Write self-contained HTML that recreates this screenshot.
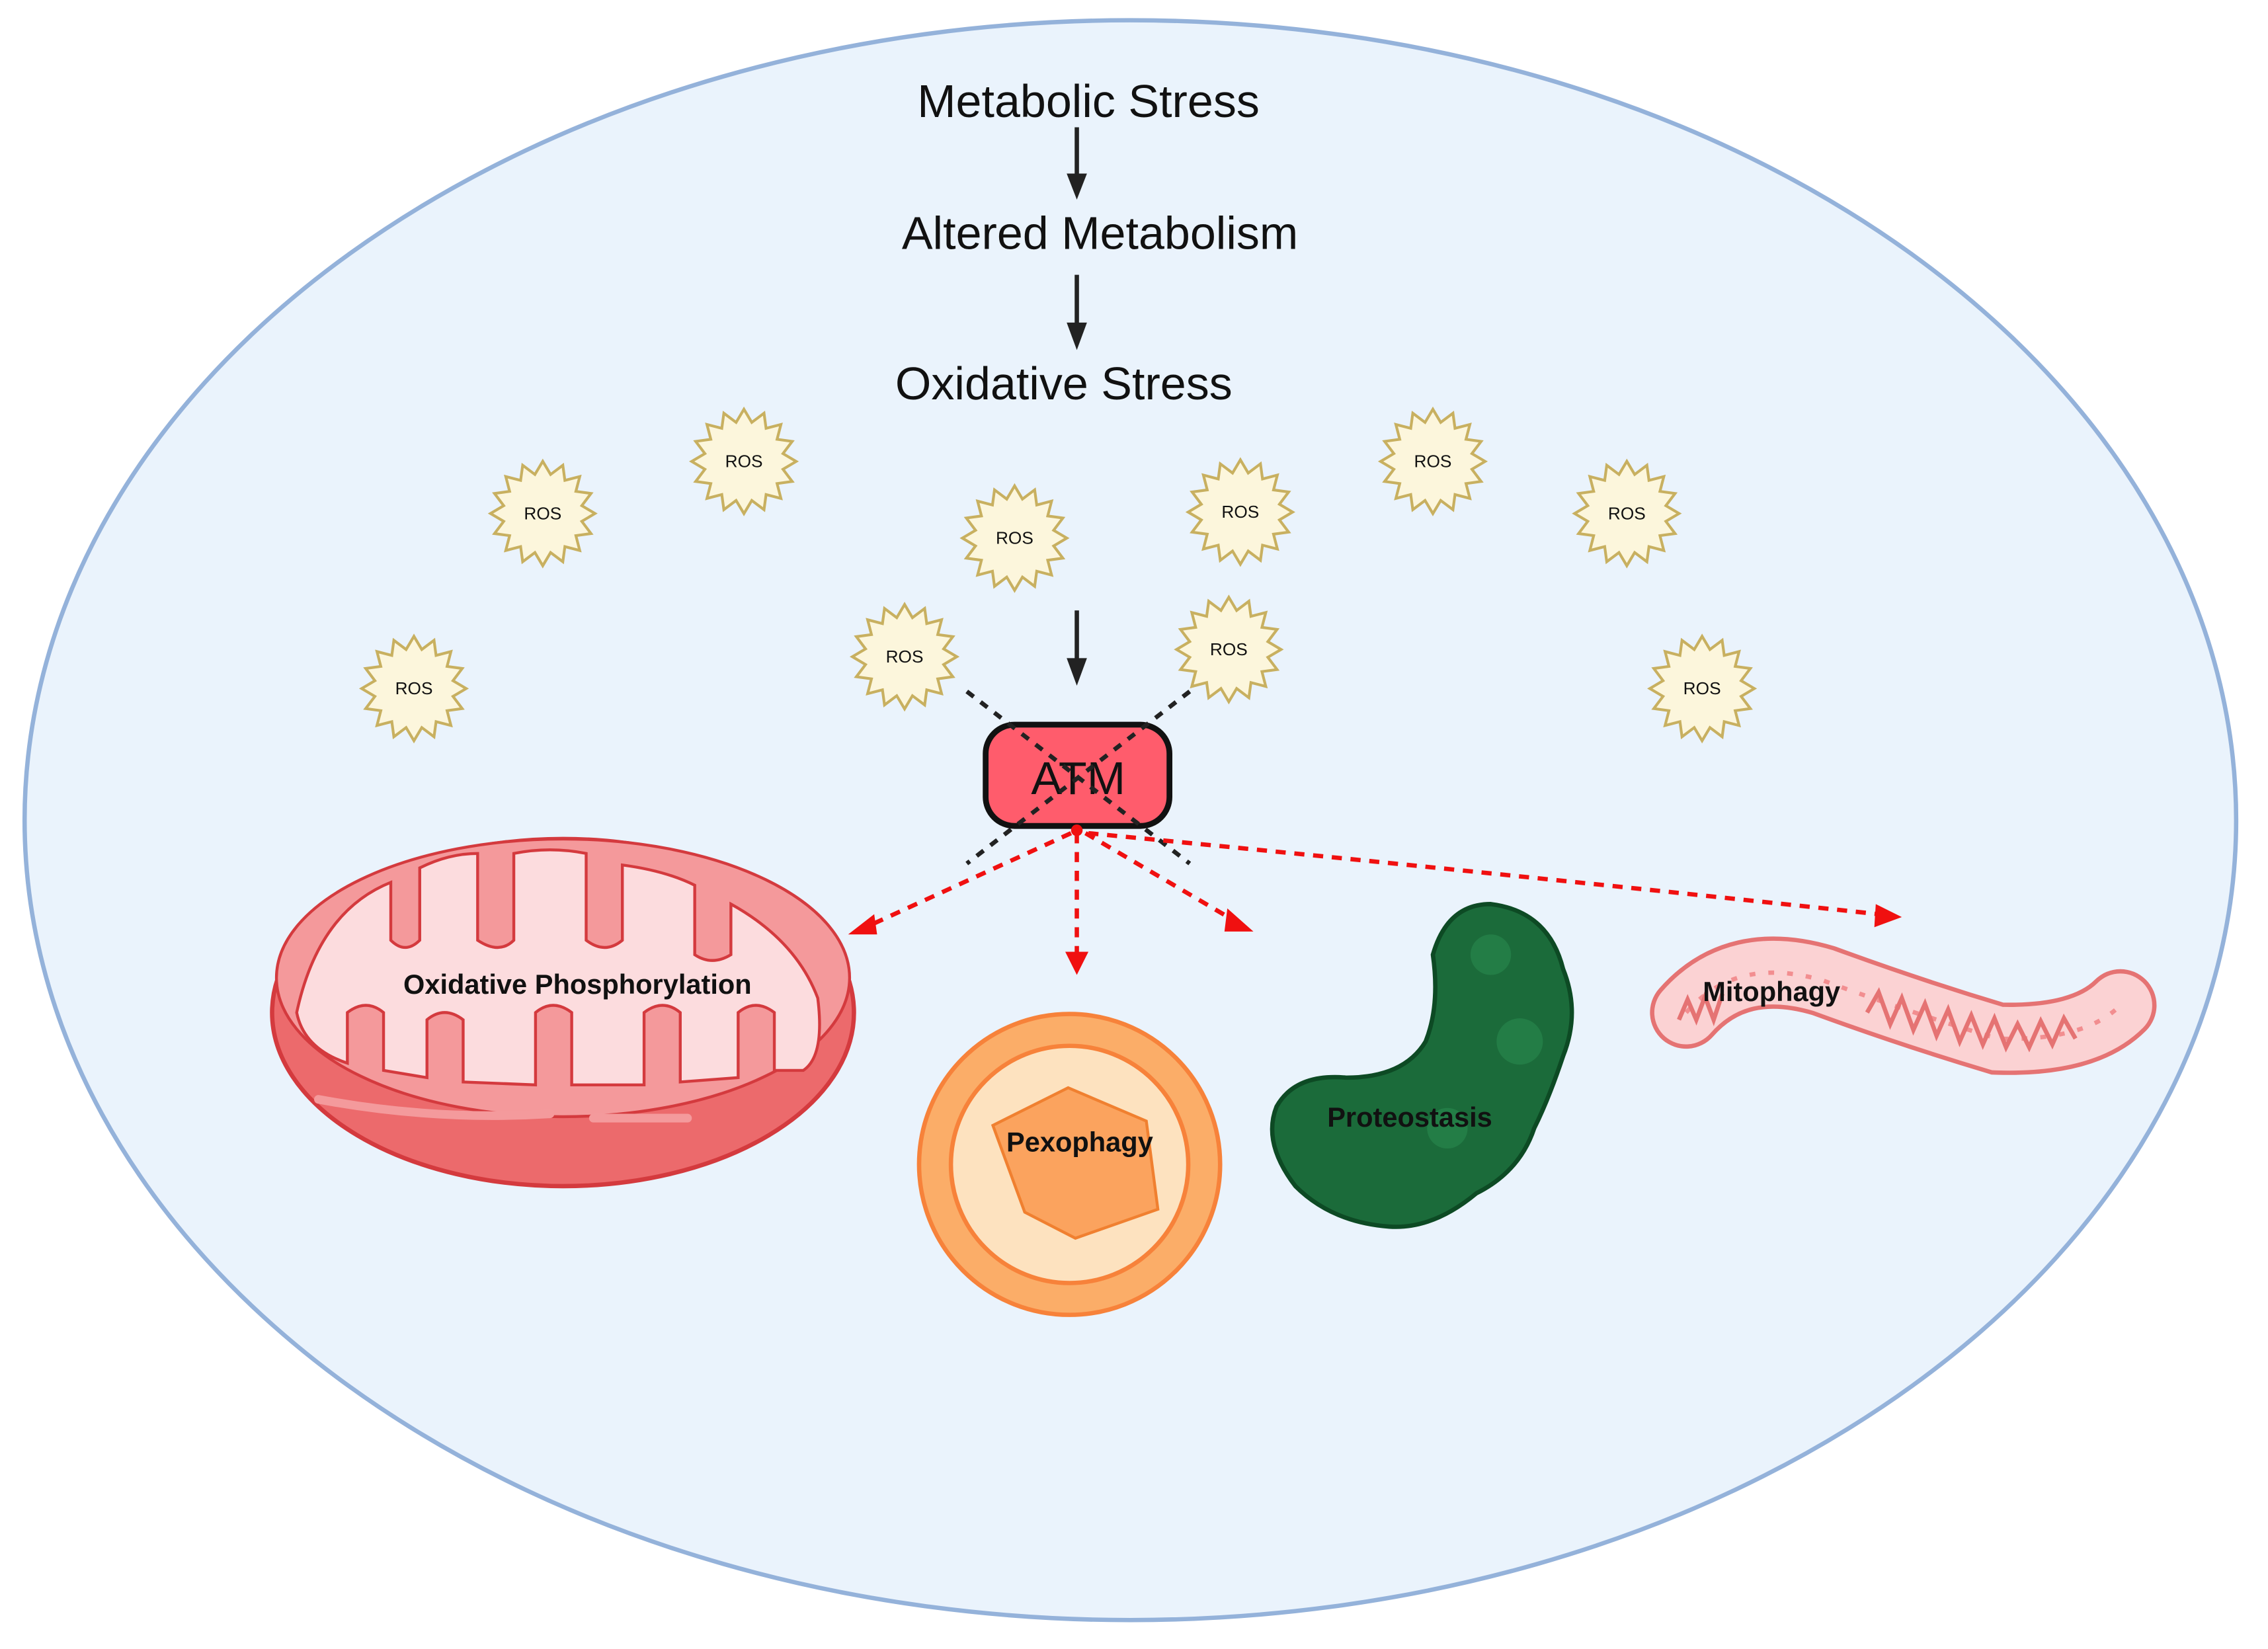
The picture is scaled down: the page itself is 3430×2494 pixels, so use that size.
<!DOCTYPE html>
<html><head><meta charset="utf-8"><style>
html,body{margin:0;padding:0;background:#fff}
svg{display:block}
text{font-family:"Liberation Sans",sans-serif}
</style></head><body>
<svg width="3430" height="2494" viewBox="0 0 1567 1140" preserveAspectRatio="none" xmlns="http://www.w3.org/2000/svg">
<defs>
<symbol id="star" viewBox="-40 -40 80 80" overflow="visible">
<polygon points="38,0 28.4,5.7 35.1,14.6 24.1,16.1 26.9,26.9 16.1,24.1 14.6,35.1 5.7,28.4 0,38 -5.7,28.4 -14.6,35.1 -16.1,24.1 -26.9,26.9 -24.1,16.1 -35.1,14.6 -28.4,5.7 -38,0 -28.4,-5.7 -35.1,-14.6 -24.1,-16.1 -26.9,-26.9 -16.1,-24.1 -14.6,-35.1 -5.7,-28.4 0,-38 5.7,-28.4 14.6,-35.1 16.1,-24.1 26.9,-26.9 24.1,-16.1 35.1,-14.6 28.4,-5.7" fill="#fcf6dc" stroke="#c8b060" stroke-width="2"/>
</symbol>
</defs>
<ellipse cx="781" cy="567" rx="764" ry="553" fill="#eaf3fc" stroke="#94b2da" stroke-width="3"/>
<g font-size="32" fill="#111" text-anchor="middle">
<text x="752" y="81">Metabolic Stress</text>
<text x="760" y="172">Altered Metabolism</text>
<text x="735" y="276">Oxidative Stress</text>
</g>
<g stroke="#222" stroke-width="3">
<line x1="744" y1="88" x2="744" y2="122"/><path d="M737,120 L751,120 L744,138z" fill="#222" stroke="none"/>
<line x1="744" y1="190" x2="744" y2="225"/><path d="M737,223 L751,223 L744,242z" fill="#222" stroke="none"/>
<line x1="744" y1="422" x2="744" y2="457"/><path d="M737,455 L751,455 L744,474z" fill="#222" stroke="none"/>
</g>
<g>
<use href="#star" x="337" y="317" width="76" height="76"/>
<use href="#star" x="476" y="281" width="76" height="76"/>
<use href="#star" x="663" y="334" width="76" height="76"/>
<use href="#star" x="819" y="316" width="76" height="76"/>
<use href="#star" x="952" y="281" width="76" height="76"/>
<use href="#star" x="1086" y="317" width="76" height="76"/>
<use href="#star" x="248" y="438" width="76" height="76"/>
<use href="#star" x="587" y="416" width="76" height="76"/>
<use href="#star" x="811" y="411" width="76" height="76"/>
<use href="#star" x="1138" y="438" width="76" height="76"/>
</g>
<g font-size="12" fill="#111" text-anchor="middle">
<text x="375" y="359">ROS</text><text x="514" y="323">ROS</text><text x="701" y="376">ROS</text>
<text x="857" y="358">ROS</text><text x="990" y="323">ROS</text><text x="1124" y="359">ROS</text>
<text x="286" y="480">ROS</text><text x="625" y="458">ROS</text><text x="849" y="453">ROS</text>
<text x="1176" y="480">ROS</text>
</g>
<rect x="681" y="501" width="127" height="70" rx="20" fill="#ff5c6c" stroke="#111" stroke-width="4"/>
<text x="745" y="549" font-size="32" fill="#111" text-anchor="middle">ATM</text>
<g stroke="#222" stroke-width="3" stroke-dasharray="6,6">
<line x1="668" y1="478" x2="822" y2="597"/>
<line x1="822" y1="478" x2="668" y2="597"/>
</g>
<g stroke="#f01010" stroke-width="3" stroke-dasharray="7,6" fill="none">
<line x1="740" y1="576" x2="596" y2="642"/>
<line x1="744" y1="576" x2="744" y2="660"/>
<line x1="750" y1="576" x2="852" y2="636"/>
<path d="M752,576 Q1000,600 1298,632"/>
</g>
<g fill="#f01010">
<path d="M586,646 L604,632 L606,646z"/>
<path d="M736,658 L752,658 L744,674z"/>
<path d="M848,628 L866,644 L846,644z"/>
<path d="M1296,625 L1314,634 L1295,641z"/>
<circle cx="744" cy="574" r="4"/>
</g>
<ellipse cx="389" cy="700" rx="201" ry="120" fill="#ec6a6c" stroke="#d43a3e" stroke-width="3"/>
<ellipse cx="389" cy="676" rx="198" ry="96" fill="#f4999b" stroke="#d43a3e" stroke-width="2"/>
<path d="M205,700 Q220,630 270,610 L270,650 Q280,660 290,650 L290,600 Q310,590 330,590 L330,650 Q345,660 355,650 L355,590 Q380,585 405,590 L405,650 Q418,660 430,650 L430,598 Q460,602 480,612 L480,660 Q492,668 505,660 L505,625 Q550,650 565,690 Q570,730 555,740 L535,740 L535,700 Q522,690 510,700 L510,745 L470,748 L470,700 Q458,690 445,700 L445,750 L395,750 L395,700 Q382,690 370,700 L370,750 L320,748 L320,705 Q307,695 295,705 L295,745 L265,740 L265,700 Q253,690 240,700 L240,735 Q210,725 205,700z" fill="#fcdcde" stroke="#d43a3e" stroke-width="2"/>
<path d="M220,760 Q300,775 380,770" stroke="#f49a9c" stroke-width="6" fill="none" stroke-linecap="round"/>
<path d="M410,773 L475,773" stroke="#f49a9c" stroke-width="6" stroke-linecap="round"/>
<text x="399" y="687" font-size="19" font-weight="bold" fill="#111" text-anchor="middle">Oxidative Phosphorylation</text>
<circle cx="739" cy="805" r="104" fill="#fbad68" stroke="#f7823a" stroke-width="3"/>
<circle cx="739" cy="805" r="82" fill="#fde2bf" stroke="#f7823a" stroke-width="3"/>
<path d="M686,778 L738,752 L792,775 L800,836 L743,856 L708,838z" fill="#fba35e" stroke="#f08030" stroke-width="2"/>
<text x="746" y="796" font-size="19" font-weight="bold" fill="#111" text-anchor="middle">Pexophagy</text>
<path d="M990,660 Q1000,625 1030,625 Q1070,630 1080,670 Q1092,700 1080,730 Q1070,760 1060,780 Q1050,810 1020,825 Q990,850 960,848 Q920,845 895,820 Q872,790 882,765 Q895,742 930,745 Q970,745 985,720 Q995,695 990,660z" fill="#1b6b3a" stroke="#0d4a24" stroke-width="3"/>
<circle cx="1030" cy="660" r="14" fill="#237d46"/><circle cx="1050" cy="720" r="16" fill="#237d46"/><circle cx="1000" cy="780" r="14" fill="#237d46"/>
<text x="974" y="779" font-size="19" font-weight="bold" fill="#111" text-anchor="middle">Proteostasis</text>
<path d="M1165,700 Q1200,660 1260,678 Q1320,700 1380,718 Q1440,720 1465,695" stroke="#e57373" stroke-width="50" fill="none" stroke-linecap="round"/>
<path d="M1165,700 Q1200,660 1260,678 Q1320,700 1380,718 Q1440,720 1465,695" stroke="#fbd2d3" stroke-width="44" fill="none" stroke-linecap="round"/>
<path d="M1165,700 Q1200,660 1260,678 Q1320,700 1380,718 Q1440,720 1465,695" stroke="#f28e90" stroke-width="3" stroke-dasharray="4,9" fill="none"/>
<path d="M1160,705 l6,-14 l6,14 l6,-16 l6,16 l6,-18 M1290,700 l8,-14 l8,22 l8,-18 l8,22 l8,-18 l8,22 l8,-18 l8,22 l8,-18 l8,20 l8,-18 l8,20 l8,-16 l8,16 l8,-18 l8,16 l8,-18 l8,14" stroke="#e57373" stroke-width="3" fill="none"/>
<text x="1224" y="692" font-size="19" font-weight="bold" fill="#111" text-anchor="middle">Mitophagy</text>
</svg>
</body></html>
